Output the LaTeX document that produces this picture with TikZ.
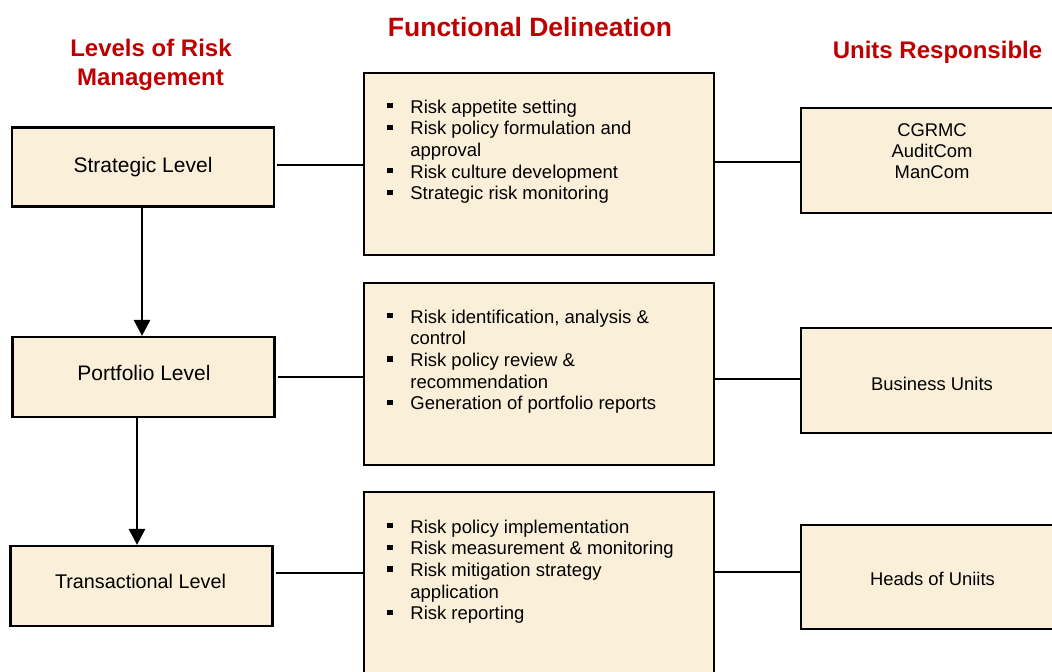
\documentclass[tikz,border=0pt]{standalone}
\usepackage{fontspec}
\setmainfont{Liberation Sans}
\usetikzlibrary{arrows.meta}
\definecolor{parch}{RGB}{250,239,216}
\definecolor{headred}{RGB}{192,0,0}
% square bullet used in the function lists
\newcommand\bulsq{\makebox[11.5pt][l]{\rule[2.4pt]{2.7pt}{2.7pt}}}
\newcommand\contind{\hspace*{11.5pt}}
\begin{document}
\begin{tikzpicture}[x=0.5pt,y=-0.5pt,
  box/.style={draw=black,line width=1.1pt,fill=parch,inner sep=0pt,rectangle},
  lvl/.style={box,minimum width=131pt,minimum height=39.5pt},
  fn/.style={box,minimum width=175pt,minimum height=91pt},
  unit/.style={box,minimum width=131pt,minimum height=52.5pt},
  head/.style={text=headred,font=\fontsize{12}{14.5}\selectfont\bfseries,align=center,inner sep=0pt},
  lbl/.style={inner sep=0pt,anchor=base},
  conn/.style={line width=0.85pt,shorten <=1pt},
  arr/.style={line width=1.4pt,-{Triangle[length=8pt,width=8pt]}}]
\useasboundingbox (0,0) rectangle (1052,671);
\clip (0,0) rectangle (1052,671);

% column headings
\node[head,anchor=base] (hfun) at (530,36) {\fontsize{13.25}{15}\selectfont Functional Delineation};
\node[head,anchor=base] (hlvl1) at (151,56) {Levels of Risk};
\node[head,anchor=base] (hlvl2) at (150.5,85) {Management};
\node[head,anchor=base] (hunit) at (937.5,58) {Units Responsible};

% levels of risk management
\node[lvl] (sbox) at (143,167) {};
\node[lvl,minimum height=40pt] (pbox) at (143.5,377) {};
\node[lvl,minimum height=40pt] (tbox) at (141.5,586) {};
\node[lbl,font=\fontsize{10.5}{12}\selectfont] (stxt) at (143,172) {Strategic Level};
\node[lbl,font=\fontsize{10.5}{12}\selectfont] (ptxt) at (144,380) {Portfolio Level};
\node[lbl,font=\fontsize{9.9}{12}\selectfont] (ttxt) at (140.5,588) {Transactional Level};

% functional delineation
\node[fn] (m1) at (539,164) {};
\node[fn] (m2) at (539,374) {};
\node[fn] (m3) at (539,582.7) {};
\node[lbl,anchor=base west] (m1t) at (387,113) {\parbox[t]{165pt}{\fontsize{9.25}{10.85}\selectfont\raggedright
  \bulsq Risk appetite setting\\
  \bulsq Risk policy formulation and\\
  \contind approval\\
  \bulsq Risk culture development\\
  \bulsq Strategic risk monitoring}};
\node[lbl,anchor=base west] (m2t) at (387,323) {\parbox[t]{165pt}{\fontsize{9.25}{10.85}\selectfont\raggedright
  \bulsq Risk identification, analysis \&\\
  \contind control\\
  \bulsq Risk policy review \&\\
  \contind recommendation\\
  \bulsq Generation of portfolio reports}};
\node[lbl,anchor=base west] (m3t) at (387,533) {\parbox[t]{165pt}{\fontsize{9.25}{10.85}\selectfont\raggedright
  \bulsq Risk policy implementation\\
  \bulsq Risk measurement \& monitoring\\
  \bulsq Risk mitigation strategy\\
  \contind application\\
  \bulsq Risk reporting}};

% units responsible
\node[unit] (r1) at (932,160.5) {};
\node[unit] (r2) at (932,380.5) {};
\node[unit,minimum height=52pt] (r3) at (932,577) {};
\node[lbl] (r1t) at (932,136) {\parbox[t]{80pt}{\fontsize{9.2}{10.5}\selectfont\centering CGRMC\\AuditCom\\ManCom}};
\node[lbl,font=\fontsize{9.2}{11}\selectfont] (r2t) at (932,390) {Business Units};
\node[lbl,font=\fontsize{9.2}{11}\selectfont] (r3t) at (932.5,585) {Heads of Uniits};

% level to function connectors
\draw[conn] ([yshift=1pt]sbox.east) -- ([yshift=1pt]sbox.east -| m1.west);
\draw[conn] (pbox.east) -- (pbox.east -| m2.west);
\draw[conn] ([yshift=6.5pt]tbox.east) -- ([yshift=6.5pt]tbox.east -| m3.west);

% function to unit connectors
\draw[line width=0.85pt] ([yshift=-0.75pt]r1.west) -- ([yshift=-0.75pt]r1.west -| m1.east);
\draw[line width=0.85pt] ([yshift=0.75pt]r2.west) -- ([yshift=0.75pt]r2.west -| m2.east);
\draw[line width=0.85pt] ([yshift=2.5pt]r3.west) -- ([yshift=2.5pt]r3.west -| m3.east);

% downward flow between levels
\draw[arr] ([xshift=-0.5pt]sbox.south) -- ([xshift=-0.75pt]pbox.north);
\draw[arr] ([xshift=-3.25pt]pbox.south) -- ([xshift=-2.25pt]tbox.north);
\end{tikzpicture}
\end{document}
